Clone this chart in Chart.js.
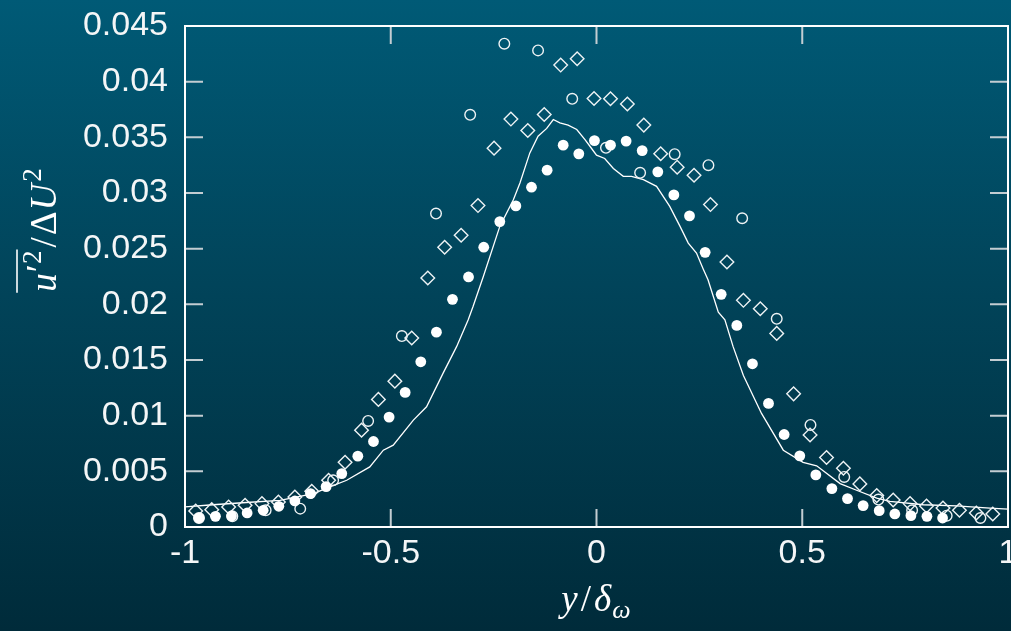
<!DOCTYPE html>
<html>
<head>
<meta charset="utf-8">
<script src="https://cdn.jsdelivr.net/npm/chart.js@4.4.1/dist/chart.umd.min.js"></script>
<style>
  html, body {
    margin: 0;
    padding: 0;
    width: 1011px;
    height: 631px;
    overflow: hidden;
    background: linear-gradient(to bottom, #005a76 0%, #01445a 45%, #002b3a 100%);
  }
  #wrap {
    position: relative;
    width: 1020px;
    height: 631px;
  }
</style>
</head>
<body>
<div id="wrap"><canvas id="stressChart"></canvas></div>
<script>
// profile data, y / delta_omega against u'^2 / dU^2
const filledX = [-0.966, -0.926, -0.887, -0.849, -0.810, -0.772, -0.733, -0.695, -0.657, -0.619,
  -0.580, -0.542, -0.504, -0.465, -0.427, -0.389, -0.350, -0.311, -0.274, -0.235,
  -0.196, -0.158, -0.120, -0.081, -0.043, -0.005, 0.034, 0.072, 0.111, 0.149,
  0.188, 0.226, 0.264, 0.303, 0.341, 0.379, 0.418, 0.456, 0.494, 0.533,
  0.572, 0.610, 0.648, 0.687, 0.725, 0.764, 0.803, 0.841];
const filledY = [0.00081, 0.00096, 0.00099, 0.00126, 0.0015, 0.00186, 0.00234, 0.0030, 0.00363, 0.0048,
  0.00636, 0.00768, 0.00987, 0.01209, 0.01484, 0.0175, 0.02045, 0.02246, 0.02513, 0.02743,
  0.02884, 0.03052, 0.03205, 0.0343, 0.03352, 0.03471, 0.0343, 0.03466, 0.03381, 0.0319,
  0.02983, 0.02794, 0.02467, 0.0209, 0.01811, 0.01466, 0.0111, 0.00831, 0.00639, 0.00468,
  0.00345, 0.00255, 0.00192, 0.00147, 0.00117, 0.00102, 0.00096, 0.00081];

const openX = [-0.966, -0.885, -0.804, -0.720, -0.640, -0.555, -0.473, -0.390, -0.307, -0.224,
  -0.142, -0.059, 0.023, 0.106, 0.190, 0.272, 0.354, 0.438, 0.520, 0.602,
  0.685, 0.767, 0.851, 0.933];
const openY = [0.00081, 0.00096, 0.0015, 0.00165, 0.0042, 0.00953, 0.01715, 0.02815, 0.03702, 0.04341,
  0.04281, 0.03846, 0.03406, 0.03181, 0.03349, 0.0325, 0.02773, 0.0187, 0.00917, 0.0045,
  0.00246, 0.0015, 0.00102, 0.00081];

const diamondX = [-0.974, -0.935, -0.894, -0.854, -0.813, -0.773, -0.733, -0.692, -0.651, -0.611,
  -0.571, -0.530, -0.490, -0.449, -0.410, -0.369, -0.329, -0.288, -0.249, -0.208,
  -0.167, -0.127, -0.087, -0.047, -0.006, 0.034, 0.075, 0.115, 0.156, 0.196,
  0.237, 0.277, 0.317, 0.357, 0.398, 0.438, 0.479, 0.519, 0.559, 0.600,
  0.640, 0.681, 0.721, 0.762, 0.802, 0.842, 0.882, 0.923, 0.963];
const diamondY = [0.00144, 0.00156, 0.0018, 0.00195, 0.0021, 0.00225, 0.0027, 0.00321, 0.0042, 0.00582,
  0.0087, 0.01146, 0.0131, 0.01697, 0.02236, 0.02513, 0.0262, 0.02887, 0.03403, 0.03664,
  0.03561, 0.03705, 0.04149, 0.04206, 0.03849, 0.03846, 0.03799, 0.0361, 0.03352, 0.03232,
  0.0316, 0.02896, 0.0238, 0.02036, 0.0196, 0.01739, 0.01196, 0.00827, 0.00624, 0.00528,
  0.00387, 0.00282, 0.00243, 0.0021, 0.00189, 0.00171, 0.0015, 0.00126, 0.00117];

const lineX = [-1.0, -0.932, -0.851, -0.769, -0.688, -0.648, -0.607, -0.551, -0.518, -0.494,
  -0.445, -0.413, -0.373, -0.340, -0.312, -0.300, -0.275, -0.235, -0.202, -0.186,
  -0.162, -0.142, -0.121, -0.105, -0.089, -0.069, -0.048, -0.028, -0.016, 0.0,
  0.020, 0.041, 0.065, 0.085, 0.114, 0.146, 0.178, 0.203, 0.223, 0.243,
  0.259, 0.271, 0.296, 0.312, 0.332, 0.357, 0.401, 0.454, 0.502, 0.535,
  0.592, 0.632, 0.681, 0.713, 0.794, 0.875, 0.956, 1.0];
const lineY = [0.0018, 0.0020, 0.0022, 0.0024, 0.0030, 0.0036, 0.0042, 0.0054, 0.0069, 0.00735,
  0.0096, 0.0108, 0.0138, 0.0162, 0.0186, 0.0198, 0.0225, 0.0270, 0.0294, 0.0309,
  0.0336, 0.0351, 0.0358, 0.0366, 0.0363, 0.0361, 0.0357, 0.0348, 0.0342, 0.0334,
  0.0331, 0.0322, 0.0315, 0.0315, 0.0312, 0.0306, 0.0288, 0.0270, 0.0255, 0.0246,
  0.0232, 0.0222, 0.0193, 0.0186, 0.0162, 0.0136, 0.0102, 0.0069, 0.0058, 0.0055,
  0.0039, 0.0033, 0.0026, 0.0023, 0.0020, 0.0019, 0.0017, 0.0016];

const xTicks = [-1, -0.5, 0, 0.5, 1];
const yTicks = [0, 0.005, 0.01, 0.015, 0.02, 0.025, 0.03, 0.035, 0.04, 0.045];

const pts = (xs, ys) => xs.map((v, i) => ({ x: v, y: ys[i] }));

const TICK_LEN = 18;

// box around the plot with inward tick marks on all four sides
const frame = {
  id: "frame",
  afterDatasetsDraw(chart) {
    const { ctx, chartArea: a, scales } = chart;
    ctx.save();
    ctx.strokeStyle = "#c3cdd2";
    ctx.lineWidth = 2;
    ctx.beginPath();
    xTicks.forEach((v) => {
      const px = scales.x.getPixelForValue(v);
      ctx.moveTo(px, a.top);
      ctx.lineTo(px, a.top + TICK_LEN);
      ctx.moveTo(px, a.bottom);
      ctx.lineTo(px, a.bottom - TICK_LEN);
    });
    yTicks.forEach((v) => {
      const py = scales.y.getPixelForValue(v);
      ctx.moveTo(a.left, py);
      ctx.lineTo(a.left + TICK_LEN, py);
      ctx.moveTo(a.right, py);
      ctx.lineTo(a.right - TICK_LEN, py);
    });
    ctx.stroke();
    ctx.strokeStyle = "#ffffff";
    ctx.lineWidth = 2;
    ctx.strokeRect(a.left, a.top, a.right - a.left, a.bottom - a.top);
    ctx.restore();
  },
};

// lay out a row of text pieces centred on cx, returns their positions
function drawRuns(ctx, runs, cx, base) {
  let total = 0;
  runs.forEach((r) => {
    ctx.font = r.font;
    r.w = ctx.measureText(r.text).width;
    total += r.w + (r.gap || 0);
  });
  let x = cx - total / 2;
  runs.forEach((r) => {
    ctx.font = r.font;
    r.x = x;
    ctx.fillText(r.text, x, base - (r.rise || 0));
    x += r.w + (r.gap || 0);
  });
  return runs;
}

// axis titles with super/subscripts and the overbar
const titles = {
  id: "titles",
  afterDraw(chart) {
    const { ctx } = chart;
    const it = 'italic 37px "Liberation Serif", "DejaVu Serif", serif';
    const up = '37px "Liberation Serif", "DejaVu Serif", serif';
    const sm = '27px "Liberation Serif", "DejaVu Serif", serif';
    const smIt = 'italic 26px "Liberation Serif", "DejaVu Serif", serif';
    ctx.save();
    ctx.fillStyle = "#ffffff";
    ctx.textBaseline = "alphabetic";
    ctx.textAlign = "left";

    // y title, rotated
    ctx.save();
    ctx.translate(56, 230);
    ctx.rotate(-Math.PI / 2);
    const yr = drawRuns(ctx, [
      { text: "u", font: it, gap: 1 },
      { text: "\u2032", font: up, rise: 4 },
      { text: "2", font: sm, rise: 15, gap: 3 },
      { text: "/", font: up, gap: 2 },
      { text: "\u0394", font: up, gap: 1 },
      { text: "U", font: it, gap: 2 },
      { text: "2", font: sm, rise: 15 },
    ], 0, 0);
    ctx.strokeStyle = "#ffffff";
    ctx.lineWidth = 1.6;
    ctx.beginPath();
    ctx.moveTo(yr[0].x - 1, -39);
    ctx.lineTo(yr[2].x + yr[2].w + 1, -39);
    ctx.stroke();
    ctx.restore();

    // x title
    drawRuns(ctx, [
      { text: "y", font: it, gap: 3 },
      { text: "/", font: up, gap: 3 },
      { text: "\u03b4", font: it, gap: 1 },
      { text: "\u03c9", font: smIt, rise: -7 },
    ], 596, 611);
    ctx.restore();
  },
};

new Chart(document.getElementById("stressChart"), {
  type: "scatter",
  data: {
    datasets: [
      {
        label: "line",
        data: pts(lineX, lineY),
        showLine: true,
        borderColor: "#ffffff",
        borderWidth: 1.3,
        pointRadius: 0,
        tension: 0,
        order: 4,
      },
      {
        label: "diamond",
        data: pts(diamondX, diamondY),
        pointStyle: "rectRot",
        pointRadius: 6.8,
        backgroundColor: "rgba(0,0,0,0)",
        borderColor: "#eef3f5",
        borderWidth: 1.4,
        order: 3,
      },
      {
        label: "open",
        data: pts(openX, openY),
        pointStyle: "circle",
        pointRadius: 5.3,
        backgroundColor: "rgba(0,0,0,0)",
        borderColor: "#eef3f5",
        borderWidth: 1.4,
        order: 2,
      },
      {
        label: "filled",
        data: pts(filledX, filledY),
        pointStyle: "circle",
        pointRadius: 5.4,
        backgroundColor: "#ffffff",
        borderWidth: 0,
        order: 1,
      },
    ],
  },
  options: {
    responsive: true,
    maintainAspectRatio: false,
    animation: false,
    layout: {
      padding: { top: 26, right: 12, left: 0, bottom: 0 },
    },
    plugins: {
      legend: { display: false },
      tooltip: { enabled: false },
    },
    scales: {
      x: {
        type: "linear",
        min: -1,
        max: 1,
        afterBuildTicks: (scale) => {
          scale.ticks = xTicks.map((v) => ({ value: v }));
        },
        afterFit: (scale) => {
          // the last label is allowed to run off the right edge
          scale.height = 104;
          scale.paddingLeft = 0;
          scale.paddingRight = 0;
        },
        ticks: {
          color: "#f4f6f7",
          padding: 6,
          maxRotation: 0,
          font: { family: '"Liberation Sans", Arial, sans-serif', size: 34 },
          callback: (value) => String(value),
        },
        grid: { display: false, drawTicks: false },
        border: { display: false },
      },
      y: {
        type: "linear",
        min: 0,
        max: 0.045,
        afterBuildTicks: (scale) => {
          scale.ticks = yTicks.map((v) => ({ value: v }));
        },
        afterFit: (scale) => {
          scale.width = 185;
          scale.paddingTop = 0;
          scale.paddingBottom = 0;
        },
        ticks: {
          color: "#f4f6f7",
          padding: 17,
          font: { family: '"Liberation Sans", Arial, sans-serif', size: 34 },
          callback: (value) => String(parseFloat(value.toFixed(3))),
        },
        grid: { display: false, drawTicks: false },
        border: { display: false },
      },
    },
  },
  plugins: [frame, titles],
});
</script>
</body>
</html>
